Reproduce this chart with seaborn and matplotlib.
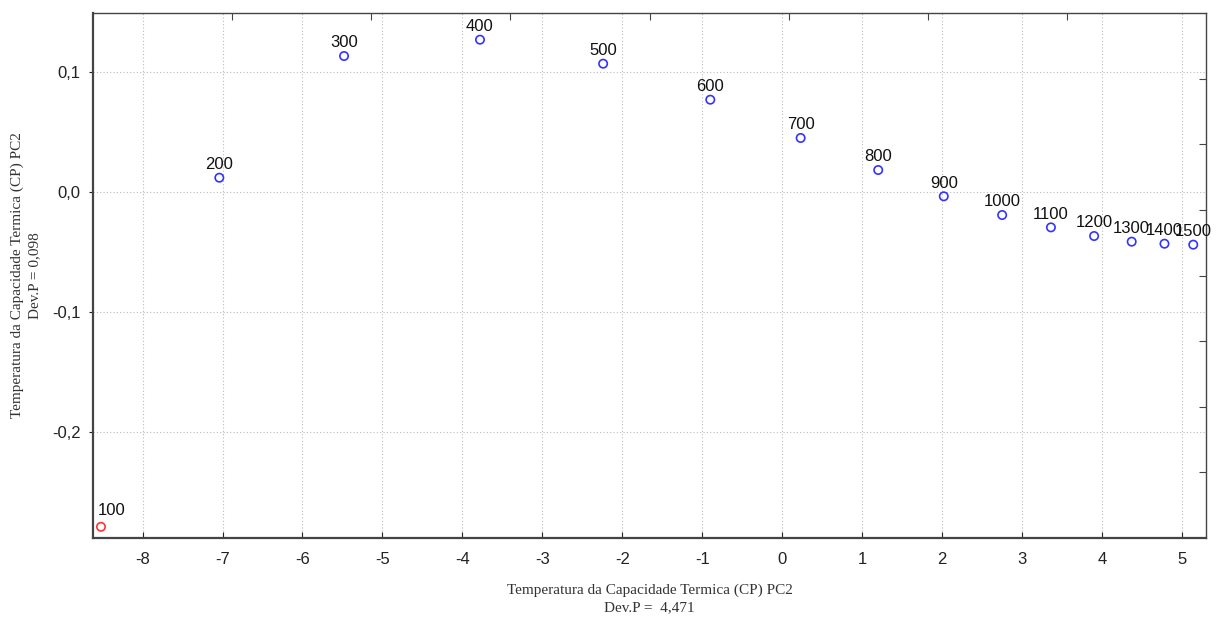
import matplotlib
matplotlib.use("Agg")
import matplotlib.pyplot as plt
import matplotlib.ticker as mticker
import numpy as np
import pandas as pd
import seaborn as sns

# scores
labels = ["100", "200", "300", "400", "500", "600", "700", "800",
          "900", "1000", "1100", "1200", "1300", "1400", "1500"]
pc_x = [-8.52, -7.04, -5.48, -3.78, -2.24, -0.90, 0.23, 1.20,
        2.02, 2.75, 3.36, 3.90, 4.37, 4.78, 5.14]
pc_y = [-0.2787, 0.0122, 0.1136, 0.1272, 0.1072, 0.0772, 0.0453, 0.0186,
        -0.0033, -0.0189, -0.0292, -0.0364, -0.0411, -0.0428, -0.0436]
groups = ["out"] + ["in"] * 14

x_ticks = list(range(-8, 6))
y_ticks = [-0.2, -0.1, 0.0, 0.1]

df = pd.DataFrame({"x": pc_x, "y": pc_y, "label": labels, "group": groups})

sns.set_style("white")
plt.rcParams["font.family"] = ["Liberation Sans", "DejaVu Sans"]
plt.rcParams["axes.unicode_minus"] = False

fig = plt.figure(figsize=(12.17, 6.21), dpi=100)
ax = fig.add_axes([0.0764, 0.1337, 0.9146, 0.8453])

sns.scatterplot(data=df, x="x", y="y", hue="group",
                palette={"in": "#3333ff", "out": "#ff3333"},
                marker="o", s=36, linewidth=1.2,
                legend=False, ax=ax)
# seaborn fills the markers, make them hollow with the hue colour as edge
coll = ax.collections[0]
coll.set_edgecolors(coll.get_facecolors())
coll.set_facecolors("none")

xmin, xmax = -8.62, 5.30
for lab, xv, yv in zip(labels, pc_x, pc_y):
    # keep labels that would cross the left frame inside the plot
    if xv - xmin < 0.2:
        ax.annotate(lab, (xv, yv), xytext=(-2, 6), textcoords="offset points",
                    ha="left", va="bottom", fontsize=12, color="#111111")
    else:
        ax.annotate(lab, (xv, yv), xytext=(0, 4), textcoords="offset points",
                    ha="center", va="bottom", fontsize=12, color="#111111")

ax.set_xlim(xmin, xmax)
ax.set_ylim(-0.288, 0.1494)
ax.set_xticks(x_ticks)
ax.set_yticks(y_ticks)
ax.yaxis.set_major_formatter(
    mticker.FuncFormatter(lambda v, p: f"{v:.1f}".replace(".", ",")))
ax.tick_params(axis="x", direction="in", length=4, labelsize=12, pad=10,
               colors="#222222")
ax.tick_params(axis="y", direction="out", length=3, labelsize=12, pad=6,
               colors="#222222")
ax.grid(True, linestyle=(0, (1, 2)), color="#bbbbbb", linewidth=0.8)

for side in ["left", "bottom"]:
    ax.spines[side].set_linewidth(1.6)
    ax.spines[side].set_color("#444444")
for side in ["top", "right"]:
    ax.spines[side].set_linewidth(1.0)
    ax.spines[side].set_color("#444444")

# the extra inward ticks on top and right edges
top = ax.twiny()
top.set_xlim(0, 8)
top.set_xticks(range(1, 8))
top.tick_params(axis="x", direction="in", length=5, labeltop=False,
                color="#444444")
right = ax.twinx()
right.set_ylim(8, 0)
right.set_yticks(range(1, 8))
right.tick_params(axis="y", direction="in", length=5, labelright=False,
                  color="#444444")
for a in (top, right):
    for s in a.spines.values():
        s.set_visible(False)

serif = ["Liberation Serif", "DejaVu Serif"]
ax.set_xlabel("Temperatura da Capacidade Termica (CP) PC2\nDev.P =  4,471",
              family=serif, fontsize=11, color="#333333", labelpad=12,
              linespacing=1.4)
ax.set_ylabel("Temperatura da Capacidade Termica (CP) PC2\nDev.P = 0,098",
              family=serif, fontsize=11, color="#333333", labelpad=8,
              linespacing=1.4)

fig.savefig("out.png", dpi=100)
